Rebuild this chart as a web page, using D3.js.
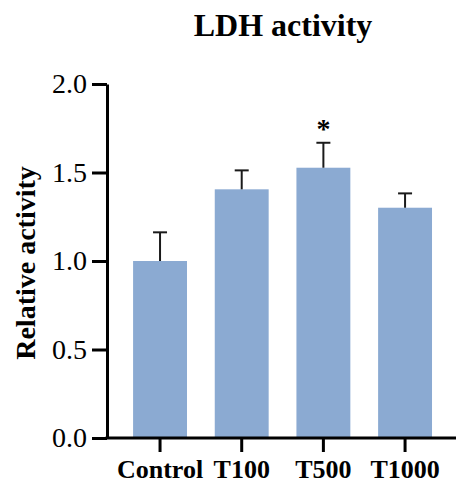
<!DOCTYPE html>
<html>
<head>
<meta charset="utf-8">
<script src="https://cdn.jsdelivr.net/npm/d3@7"></script>
<style>
  body { margin: 0; background: #fff; }
  text { font-family: "Liberation Serif", "Times New Roman", serif; }
</style>
</head>
<body>
<svg id="chart" width="457" height="483"></svg>
<script>
// values
var groups = ["Control", "T100", "T500", "T1000"];
var means = [1.0, 1.405, 1.527, 1.301];
var errors = [0.162, 0.107, 0.141, 0.081];
var marks = ["", "", "*", ""];
var yTicks = [0.0, 0.5, 1.0, 1.5, 2.0];

var svg = d3.select("#chart");

var xScale = d3.scaleBand()
               .domain(groups)
               .range([119.2, 445.9])
               .paddingInner(0.34)
               .paddingOuter(0.17);
var yScale = d3.scaleLinear()
               .domain([0, 2])
               .range([438, 84]);

// bars
svg.selectAll("rect.bar")
   .data(groups)
   .enter().append("rect")
   .attr("class", "bar")
   .attr("x", d => xScale(d))
   .attr("width", xScale.bandwidth())
   .attr("y", (d, i) => yScale(means[i]))
   .attr("height", (d, i) => yScale(0) - yScale(means[i]))
   .attr("fill", "#8BAAD2");

// upper error bars
var err = svg.selectAll("g.err")
   .data(groups)
   .enter().append("g")
   .attr("class", "err")
   .attr("stroke", "#1a1a1a")
   .attr("stroke-width", 2);
err.append("line")
   .attr("x1", d => xScale(d) + xScale.bandwidth() / 2)
   .attr("x2", d => xScale(d) + xScale.bandwidth() / 2)
   .attr("y1", (d, i) => yScale(means[i]))
   .attr("y2", (d, i) => yScale(means[i] + errors[i]));
err.append("line")
   .attr("x1", d => xScale(d) + xScale.bandwidth() / 2 - 7)
   .attr("x2", d => xScale(d) + xScale.bandwidth() / 2 + 7)
   .attr("y1", (d, i) => yScale(means[i] + errors[i]))
   .attr("y2", (d, i) => yScale(means[i] + errors[i]));

// significance marks
svg.selectAll("text.sig")
   .data(groups)
   .enter().append("text")
   .attr("class", "sig")
   .attr("x", d => xScale(d) + xScale.bandwidth() / 2)
   .attr("y", (d, i) => yScale(means[i] + errors[i]) - 5)
   .attr("text-anchor", "middle")
   .style("font-size", "28px")
   .style("font-weight", "bold")
   .text((d, i) => marks[i]);

// y axis
var yAxis = svg.append("g")
   .attr("transform", "translate(107,0)")
   .call(d3.axisLeft(yScale).tickValues(yTicks).tickFormat(d3.format(".1f"))
           .tickSize(15).tickSizeOuter(0).tickPadding(5));
yAxis.select(".domain").attr("stroke-width", 3);
yAxis.selectAll(".tick line").attr("stroke-width", 3);
yAxis.selectAll(".tick text")
     .attr("fill", "#000")
     .style("font-size", "28px")
     .style("font-family", "Liberation Serif, serif");

// x axis
var xAxis = svg.append("g")
   .attr("transform", "translate(0,438)")
   .call(d3.axisBottom(xScale).tickSize(14).tickSizeOuter(0).tickPadding(8));
xAxis.select(".domain").attr("d", "M105.5,0H456").attr("stroke-width", 3);
xAxis.selectAll(".tick line").attr("stroke-width", 3);
xAxis.selectAll(".tick text")
     .attr("fill", "#000")
     .style("font-size", "26px")
     .style("font-weight", "bold")
     .style("font-family", "Liberation Serif, serif");

// title
svg.append("text")
   .attr("x", 283)
   .attr("y", 36)
   .attr("text-anchor", "middle")
   .style("font-size", "32px")
   .style("font-weight", "bold")
   .text("LDH activity");

// y label
svg.append("text")
   .attr("transform", "rotate(-90)")
   .attr("x", -263)
   .attr("y", 35)
   .attr("text-anchor", "middle")
   .style("font-size", "28px")
   .style("font-weight", "bold")
   .text("Relative activity");
</script>
</body>
</html>
